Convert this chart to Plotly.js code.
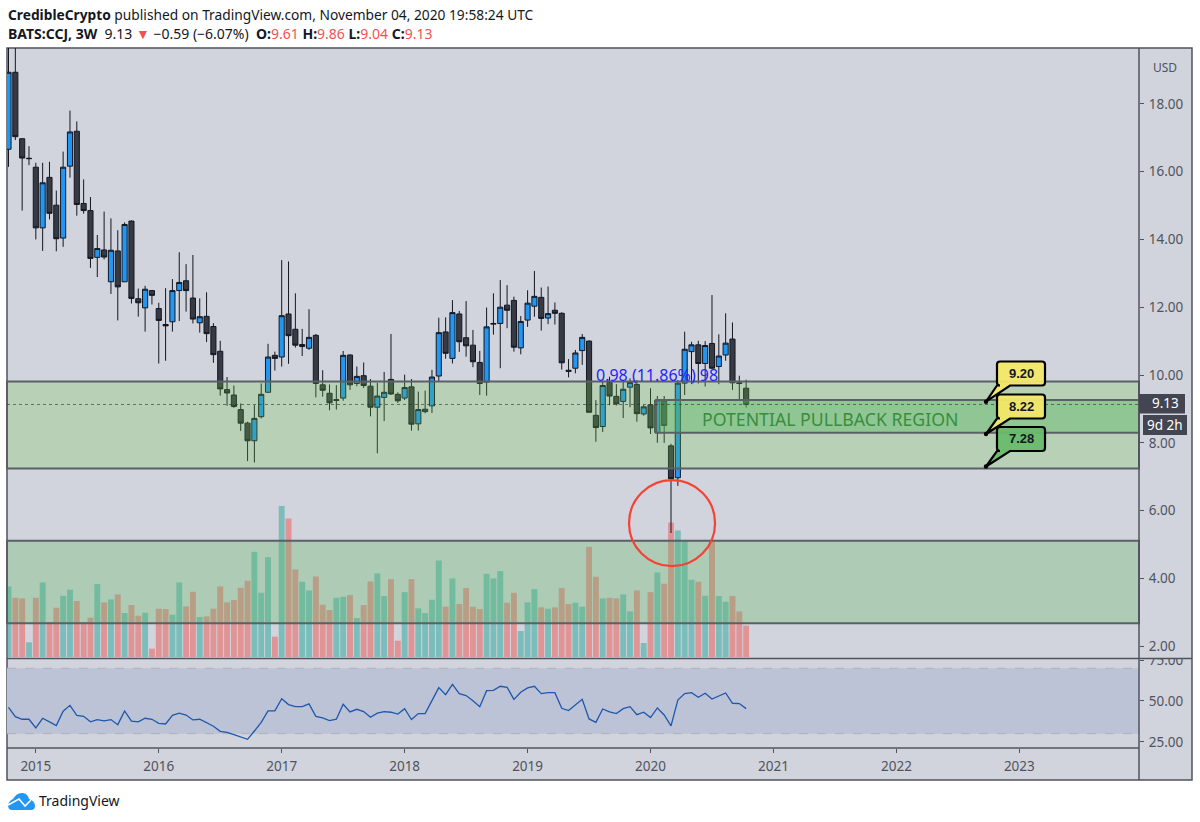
<![CDATA[<!DOCTYPE html>
<html><head><meta charset="utf-8">
<script src="https://cdn.plot.ly/plotly-3.0.1.min.js"></script>
<style>html,body{margin:0;padding:0;background:#fff}#c{width:1200px;height:822px}</style></head>
<body><div id="c"></div>
<script>
const yearLabels=['2015','2016','2017','2018','2019','2020','2021','2022','2023'];
const yearBars=[4,22,40,58,76,94,112,130,148];
const priceTicks=[2,4,6,8,10,12,14,16,18];
const rsiTicks=[25,50,75];
const opens=[16.66,18.93,16.97,16.38,16.13,14.34,15.83,15.01,14.04,16.16,17.19,15.06,14.85,13.47,13.69,12.75,13.66,12.75,14.54,12.25,11.98,12.49,11.96,11.49,11.57,12.49,12.78,12.27,11.54,11.73,11.43,10.70,9.57,9.41,8.98,8.58,8.06,8.77,9.49,10.58,10.53,11.80,11.35,10.84,10.79,11.17,9.71,9.46,9.25,9.32,10.59,9.75,9.98,9.67,9.05,9.34,9.87,9.43,9.32,9.65,8.56,8.92,9.09,9.97,11.27,10.49,11.80,11.10,10.88,10.37,9.79,11.50,11.52,12.06,12.20,10.80,11.62,12.03,12.29,11.68,11.91,11.82,10.14,10.20,10.72,11.00,8.81,8.48,9.78,9.37,9.22,9.64,9.72,8.85,9.12,8.30,9.23,7.91,6.97,9.76,10.69,10.89,10.34,10.93,10.25,10.59,11.06,9.77,9.61];
const highs=[20,20,16.99,16.75,16.26,16.26,16.29,15.44,16.59,17.80,17.48,15.77,15.25,14.13,14.82,14.62,14.27,14.50,14.56,12.55,12.63,12.51,12.13,12.56,12.83,13.62,13.27,13.54,12.26,12.44,11.53,11.01,9.94,9.69,9.16,8.62,9.11,9.75,10.92,10.69,13.39,13.35,12.41,11.36,11.94,11.21,10.14,9.72,9.70,10.71,10.61,10.25,10.37,9.88,9.77,10.09,11.21,9.49,10.01,9.88,9.51,9.54,10.15,11.69,11.70,12.21,11.89,12.18,11.33,10.71,11.99,12.41,12.80,12.65,12.31,11.74,12.50,13.07,12.58,12.61,12.14,11.85,10.47,10.74,11.21,11.02,9.26,9.80,9.95,9.73,9.85,9.90,9.85,9.12,9.61,9.38,9.38,7.97,9.85,11.28,10.98,11.01,11.00,12.36,11.20,11.82,11.55,9.98,9.86];
const lows=[16.14,16.93,14.85,16.19,14.00,13.66,14.59,13.65,13.78,15.82,14.70,14.76,13.16,12.89,13.41,12.39,11.61,12.75,12.11,11.72,11.28,12.08,10.34,10.42,11.28,11.59,11.87,11.52,11.25,10.97,10.36,9.39,9.09,9.03,8.35,7.46,7.42,8.72,9.49,10.13,10.25,10.33,10.81,10.56,10.74,9.34,9.36,8.96,8.98,9.24,9.56,9.67,9.62,8.78,7.69,8.64,9.41,9.18,9.26,8.36,8.36,8.87,8.88,9.82,10.48,10.34,10.68,10.54,10.23,9.41,9.39,11.19,10.20,11.38,10.69,10.61,11.42,11.72,11.31,11.50,11.49,10.16,9.93,10.05,10.30,8.90,8.03,8.32,9.11,9.10,8.73,9.05,8.62,8.80,8.26,8.00,8.00,5.34,6.73,9.41,9.73,9.75,9.66,10.18,9.73,10.42,9.56,9.28,9.04];
const closes=[18.93,17.03,16.40,16.39,14.34,15.67,14.77,14.02,16.13,17.17,15.03,14.85,13.44,13.73,13.48,13.68,12.60,14.44,12.26,12.13,12.53,12.35,11.61,11.45,12.49,12.73,12.49,11.65,11.72,11.22,10.60,9.59,9.47,9.07,8.58,8.06,8.72,9.43,10.53,10.49,11.75,11.16,10.88,10.90,11.11,9.75,9.55,9.18,9.27,10.58,9.71,9.96,9.69,9.05,9.38,9.49,9.44,9.24,9.63,8.55,8.98,8.99,9.94,11.25,10.64,11.84,10.98,10.86,10.39,9.75,11.42,11.52,12.00,11.91,10.82,11.58,12.12,12.32,11.67,11.81,11.82,10.36,10.11,10.65,11.11,8.90,8.45,9.69,9.38,9.15,9.58,9.78,8.86,9.06,8.44,9.26,8.51,6.94,9.76,10.76,10.89,10.34,10.87,10.20,10.56,10.94,9.77,9.75,9.13];
const volumes=[21.2,17.8,17.6,4.4,17.8,22.4,10.5,14.8,18.4,20.2,16.8,10.5,11.8,21.9,16.4,17.3,18.8,13.2,15.6,12.4,13.3,2.5,14.5,14.4,12.7,22.4,15.2,19.6,12.0,12.2,14.5,21.2,16.4,17.1,20.8,22.9,31.6,19.3,30.0,6.1,45.4,41.6,26.3,22.6,20.0,24.2,15.7,14.1,17.8,18.1,18.6,11.7,15.6,22.7,25.1,18.3,23.4,4.9,19.5,23.4,14.6,13.2,17.2,29.0,15.1,23.6,15.9,20.7,15.1,14.4,25.0,23.6,25.8,16.3,19.3,7.8,16.4,20.4,14.9,14.5,14.9,20.7,15.9,16.3,15.1,33.1,24.1,17.6,17.8,17.6,18.8,13.7,20.0,4.2,19.5,25.4,22.0,40.4,38.0,35.0,23.2,22.6,18.4,35.2,18.3,16.6,18.3,13.7,9.4];
const rsi=[46.1,40.4,38.8,38.8,33.5,39.4,37.2,34.9,43.7,47.3,41.2,40.6,37.2,38.6,37.8,38.6,35.5,43.9,37.6,37.2,39.4,38.8,36.3,35.9,41.2,42.5,41.4,38.4,38.8,36.7,34.5,31.4,30.8,29.4,28.0,26.5,31.6,36.9,43.9,43.9,51.4,47.8,46.5,46.5,48.2,40.6,39.6,38.0,38.8,48.0,43.3,44.9,43.5,40.0,42.5,43.5,43.1,42.0,45.3,38.6,42.3,42.3,50.2,58.2,53.9,60.2,54.5,53.3,50.2,46.5,56.3,56.5,59.0,58.4,51.0,55.3,58.0,59.0,54.5,55.1,55.1,45.5,44.1,47.6,51.0,39.0,36.9,45.1,43.3,42.3,45.3,46.5,41.6,43.1,39.8,45.7,41.4,34.7,50.6,54.5,55.1,52.3,54.7,51.2,53.1,54.9,48.6,48.4,45.3];
const barIndex=closes.map((_,i)=>i);
const zoneUpper=[9.81,7.24], zonePullback=[9.26,8.30], zoneVolume=[5.11,2.68];
const lastClose=9.13;

const L=7,R=1139,T=48,B=748;
const px=x=>(x-L)/(R-L), py=y=>(B-y)/(B-T);
const FONT='"Noto Sans","Open Sans",sans-serif';
const AX='#50535e',LINE='#5b5f67';
const paperRect=(x0,y0,x1,y1,fill,line,lw,layer)=>({type:'rect',xref:'paper',yref:'paper',x0:px(x0),x1:px(x1),y0:py(y1),y1:py(y0),fillcolor:fill,line:{color:line||'rgba(0,0,0,0)',width:lw||0},layer:layer||'above'});
const paperLine=(x0,y0,x1,y1,c,w)=>({type:'line',xref:'paper',yref:'paper',x0:px(x0),x1:px(x1),y0:py(y0),y1:py(y1),line:{color:c,width:w||1}});
const path=(pts,fill,line,lw)=>({type:'path',xref:'paper',yref:'paper',path:pts,fillcolor:fill,line:{color:line||'rgba(0,0,0,0)',width:lw||0}});
const P=(x,y)=>px(x).toFixed(5)+','+py(y).toFixed(5);
const zoneH=(a,b,fill,x0)=>({type:'rect',xref:'paper',yref:'y3',x0:x0===undefined?0:x0,x1:1,y0:b,y1:a,fillcolor:fill,line:{color:LINE,width:2},layer:'above'});
function callout(y0,fill,tipY){
  const x0=997,x1=1045,y1=y0+24,r=3;
  return [
   path('M'+P(x0+r,y0)+' L'+P(x1-r,y0)+' Q'+P(x1,y0)+' '+P(x1,y0+r)+' L'+P(x1,y1-r)+' Q'+P(x1,y1)+' '+P(x1-r,y1)+' L'+P(1010,y1)+' L'+P(986,tipY)+' L'+P(x0,y1)+' L'+P(x0+r,y1)+' Q'+P(x0,y1)+' '+P(x0,y1-r)+' L'+P(x0,y0+r)+' Q'+P(x0,y0)+' '+P(x0+r,y0)+' Z',fill,'#000',2.2),
   {type:'circle',xref:'paper',yref:'paper',x0:px(983.8),x1:px(988.2),y0:py(tipY+2.2),y1:py(tipY-2.2),fillcolor:'#000',line:{width:0}}
  ];
}
const logo=[
 path('M'+P(8,805)+' Q'+P(9,801)+' '+P(13,799)+' Q'+P(17,792)+' '+P(23,793)+' Q'+P(28,794)+' '+P(29,799)+' Q'+P(35,801)+' '+P(35,806)+' Q'+P(35,810)+' '+P(31,810)+' L'+P(12,810)+' Q'+P(8,810)+' '+P(8,805)+' Z','#2196f3'),
 path('M'+P(8,805)+' L'+P(19,799)+' L'+P(25,806)+' L'+P(31,800),'rgba(0,0,0,0)','#fff',1.6)
];
const shapes=[
 paperRect(L,T,1192,780,'#d1d4dc',AX,1.5,'below'),
 {type:'rect',xref:'paper',yref:'y2',x0:0,x1:1,y0:30,y1:70,fillcolor:'#bcc3d6',line:{width:0},layer:'below'},
 {type:'line',xref:'paper',yref:'y2',x0:0,x1:1,y0:70,y1:70,line:{color:'#aeb2bb',width:1,dash:'dash'},layer:'below'},
 {type:'line',xref:'paper',yref:'y2',x0:0,x1:1,y0:30,y1:30,line:{color:'#aeb2bb',width:1,dash:'dash'},layer:'below'},
 zoneH(zoneUpper[0],zoneUpper[1],'rgba(112,196,68,0.25)'),
 zoneH(zonePullback[0],zonePullback[1],'rgba(85,183,97,0.40)',px(656)),
 zoneH(zoneVolume[0],zoneVolume[1],'rgba(93,183,97,0.30)'),
 {type:'line',xref:'paper',yref:'y3',x0:0,x1:1,y0:lastClose,y1:lastClose,line:{color:'rgba(40,50,40,0.6)',width:1,dash:'dot'},layer:'above'},
 {type:'circle',xref:'x',yref:'y3',x0:90.85,x1:103.45,y0:4.36,y1:6.90,line:{color:'#f44336',width:2.2},fillcolor:'rgba(0,0,0,0)',layer:'above'},
 paperRect(1140,652.5,1191,658,'#d1d4dc'),
 paperLine(L,658.5,1192,658.5,AX,1.5),
 paperLine(L,748,1139,748,AX,1.5),
 paperLine(1139,T,1139,780,AX,1.5),
 ...callout(361.5,'rgba(243,232,104,0.95)',401.7),
 ...callout(394.5,'rgba(243,232,104,0.95)',434),
 ...callout(427,'rgba(105,187,108,0.95)',466.5),
 paperRect(1139,394,1185,413.5,'#434651'),
 paperRect(1143,415,1187,435,'#434651'),
 ...logo
];
const ann=(x,y,text,size,color,anchor,extra)=>Object.assign({xref:'paper',yref:'paper',x:px(x),y:py(y),text,showarrow:false,xanchor:anchor||'left',yanchor:'middle',font:{family:FONT,size,color},borderpad:0,bgcolor:'rgba(0,0,0,0)'},extra||{});
const RED='#ef5350';
const red=s=>'<span style="color:'+RED+'">'+s+'</span>';
const LIB={family:'"Liberation Sans",sans-serif',size:13,color:'#131722'};
const annotations=[
 ann(7,14,'<b>CredibleCrypto</b> published on TradingView.com, November 04, 2020 19:58:24 UTC',13.75,'#131722'),
 ann(7,33,'<b>BATS:CCJ, 3W</b>  9.13 '+red('▼')+' −0.59 (−6.07%)  <b>O:</b>'+red('9.61')+' <b>H:</b>'+red('9.86')+' <b>L:</b>'+red('9.04')+' <b>C:</b>'+red('9.13'),14,'#131722'),
 ann(1165,67,'USD',12,AX,'center'),
 ann(830,419,'POTENTIAL PULLBACK REGION',17.7,'#388e3c','center'),
 ann(657,375,'0.98 (11.86%) 98',16,'#2323ff','center'),
 ann(1021,373.5,'<b>9.20</b>',13,'#131722','center',{font:LIB}),
 ann(1021,406.5,'<b>8.22</b>',13,'#131722','center',{font:LIB}),
 ann(1021,439,'<b>7.28</b>',13,'#131722','center',{font:LIB}),
 ann(1165,403.5,'9.13',13.5,'#ffffff','center'),
 ann(1165,425,'9d 2h',13.5,'#ffffff','center'),
 ann(38,801,'TradingView',14,'#131722')
];
const data=[
 {type:'bar',x:barIndex,y:volumes,xaxis:'x',yaxis:'y',width:0.86,hoverinfo:'skip',
  marker:{color:closes.map((c,i)=>c>=opens[i]?'rgba(38,166,154,0.5)':'rgba(239,83,80,0.5)'),line:{width:0}}},
 {type:'candlestick',x:barIndex,open:opens,high:highs,low:lows,close:closes,xaxis:'x',yaxis:'y3',whiskerwidth:0,hoverinfo:'skip',
  increasing:{line:{color:'#131722',width:1},fillcolor:'#2196f3'},
  decreasing:{line:{color:'#131722',width:1},fillcolor:'#363a45'}},
 {type:'scatter',mode:'lines',x:barIndex,y:rsi,xaxis:'x',yaxis:'y2',hoverinfo:'skip',line:{color:'#1f57ab',width:1.3}}
];
const tickStyle={tickmode:'array',ticks:'outside',ticklen:4,tickcolor:AX,tickfont:{family:FONT,size:13.5,color:AX},ticklabelstandoff:2,showgrid:false,zeroline:false,showline:false,fixedrange:true};
const layout={
 width:1200,height:822,autosize:false,showlegend:false,
 paper_bgcolor:'#ffffff',plot_bgcolor:'rgba(0,0,0,0)',
 margin:{l:L,r:1200-R,t:T,b:822-B,pad:0},
 boxgap:0.25,boxgroupgap:0,hovermode:false,dragmode:false,
 font:{family:FONT,size:13,color:AX},
 xaxis:Object.assign({range:[-0.22,165.52],anchor:'y2',tickvals:yearBars,ticktext:yearLabels,rangeslider:{visible:false}},tickStyle),
 yaxis:{domain:[90/700,1],range:[-0.3,183],visible:false,fixedrange:true,showgrid:false,zeroline:false},
 yaxis3:Object.assign({domain:[90/700,1],overlaying:'y',anchor:'x',side:'right',range:[1.652,19.646],tickvals:priceTicks,ticktext:priceTicks.map(v=>v.toFixed(2))},tickStyle),
 yaxis2:Object.assign({domain:[0,89/700],anchor:'x',side:'right',range:[21.2,75.7],tickvals:rsiTicks,ticktext:rsiTicks.map(v=>v.toFixed(2))},tickStyle),
 shapes,annotations
};
Plotly.newPlot('c',data,layout,{displayModeBar:false,staticPlot:true,responsive:false});
</script></body></html>]]>
